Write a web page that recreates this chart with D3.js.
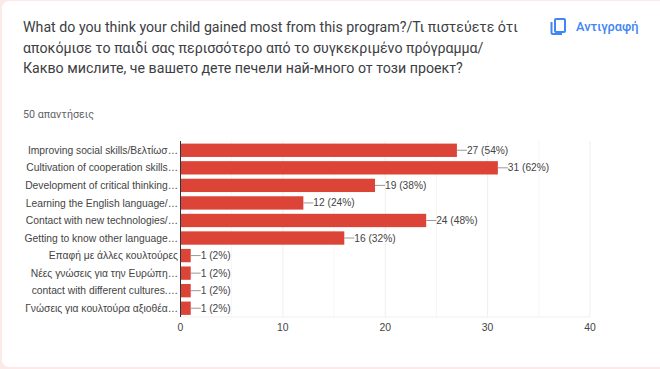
<!DOCTYPE html>
<html>
<head>
<meta charset="utf-8">
<script src="https://cdn.jsdelivr.net/npm/d3@7/dist/d3.min.js"></script>
<style>
    html, body {margin: 0; padding: 0; background: #fff; overflow: hidden;}
    svg {display: block;}
</style>
</head>
<body>
<svg id="chart"></svg>
<script>
const categories = [
    "Improving social skills/Βελτίωσ…",
    "Cultivation of cooperation skills…",
    "Development of critical thinking…",
    "Learning the English language/…",
    "Contact with new technologies/…",
    "Getting to know other language…",
    "Επαφή με άλλες κουλτούρες",
    "Νέες γνώσεις για την Ευρώπη…",
    "contact with different cultures.…",
    "Γνώσεις για κουλτούρα αξιοθέα…"
];
const counts = [27, 31, 19, 12, 24, 16, 1, 1, 1, 1];
const percents = [54, 62, 38, 24, 48, 32, 2, 2, 2, 2];
const xTicks = [0, 10, 20, 30, 40];
const xMinorTicks = [5, 15, 25, 35];
const titleLines = [
    "What do you think your child gained most from this program?/Τι πιστεύετε ότι",
    "αποκόμισε το παιδί σας περισσότερο από το συγκεκριμένο πρόγραμμα/",
    "Какво мислите, че вашето дете печели най-много от този проект?"
];
const responsesLabel = "50 απαντήσεις";
const copyLabel = "Αντιγραφή";

const width = 660, height = 369;
const uiFont = "Roboto, sans-serif";
const chartFont = "'Liberation Sans', Arial, sans-serif";

const svg = d3.select("svg#chart").attr("width", width).attr("height", height);

// Card on the pale pink page
svg.append("rect").attr("width", width).attr("height", height).attr("fill", "#fbeae8");
svg.append("rect")
    .attr("x", 2).attr("y", 1)
    .attr("width", width + 20).attr("height", 366)
    .attr("rx", 7)
    .attr("fill", "#fff");

// Question
svg.append("g").selectAll("text")
    .data(titleLines)
    .enter()
    .append("text")
    .attr("x", 23)
    .attr("y", (d, i) => 32 + i * 20.7)
    .attr("font-family", uiFont)
    .attr("font-size", 14.2)
    .attr("fill", "#3c4043")
    .text(d => d);

svg.append("text")
    .attr("x", 23).attr("y", 118)
    .attr("font-family", uiFont)
    .attr("font-size", 10.7)
    .attr("fill", "#5f6368")
    .text(responsesLabel);

// Copy button
const copy = svg.append("g").attr("fill", "none").attr("stroke", "#4285f4").attr("stroke-width", 2);
copy.append("rect").attr("x", 555).attr("y", 19).attr("width", 10).attr("height", 13).attr("rx", 1);
copy.append("path").attr("d", "M551.5 22v10.5a1.5 1.5 0 0 0 1.5 1.5h9");
svg.append("text")
    .attr("x", 576).attr("y", 31)
    .attr("font-family", uiFont)
    .attr("font-size", 12.8)
    .attr("font-weight", 500)
    .attr("fill", "#4285f4")
    .text(copyLabel);

// Scales
const x = d3.scaleLinear().domain([0, 40]).range([180.5, 590]);
const y = d3.scaleBand().domain(categories).range([141.5, 317]).paddingInner(0.24).paddingOuter(0.12);
const row = i => y(categories[i]) + y.bandwidth() / 2;

// Grid
const grid = svg.append("g");
grid.selectAll(".minor")
    .data(xMinorTicks)
    .enter()
    .append("line")
    .attr("class", "minor")
    .attr("x1", d => x(d)).attr("x2", d => x(d))
    .attr("y1", 141).attr("y2", 317)
    .attr("stroke", "#f6f6f6");
grid.selectAll(".major")
    .data(xTicks.slice(1))
    .enter()
    .append("line")
    .attr("class", "major")
    .attr("x1", d => x(d)).attr("x2", d => x(d))
    .attr("y1", 141).attr("y2", 317)
    .attr("stroke", "#efefef");
grid.append("line")
    .attr("x1", x(0)).attr("x2", x(40))
    .attr("y1", 317).attr("y2", 317)
    .attr("stroke", "#efefef");

// Bars
svg.append("g").selectAll("rect")
    .data(counts)
    .enter()
    .append("rect")
    .attr("x", x(0))
    .attr("y", (d, i) => y(categories[i]))
    .attr("width", d => x(d) - x(0))
    .attr("height", y.bandwidth())
    .attr("fill", "#db4437");

// Zero line
svg.append("line")
    .attr("x1", x(0)).attr("x2", x(0))
    .attr("y1", 141).attr("y2", 317)
    .attr("stroke", "#333");

// Leader lines and value labels
svg.append("g").selectAll("line")
    .data(counts)
    .enter()
    .append("line")
    .attr("x1", d => x(d)).attr("x2", d => x(d) + 10)
    .attr("y1", (d, i) => row(i)).attr("y2", (d, i) => row(i))
    .attr("stroke", "#999");
svg.append("g").selectAll("text")
    .data(counts)
    .enter()
    .append("text")
    .attr("x", d => x(d) + 10)
    .attr("y", (d, i) => row(i))
    .attr("dy", "0.35em")
    .attr("font-family", chartFont)
    .attr("font-size", 10.2)
    .attr("fill", "#444")
    .text((d, i) => d + " (" + percents[i] + "%)");

// Category labels
svg.append("g").selectAll("text")
    .data(categories)
    .enter()
    .append("text")
    .attr("x", 178)
    .attr("y", d => y(d) + y.bandwidth() / 2)
    .attr("dy", "0.35em")
    .attr("text-anchor", "end")
    .attr("font-family", chartFont)
    .attr("font-size", 10.3)
    .attr("fill", "#444")
    .text(d => d);

// X axis labels
svg.append("g").selectAll("text")
    .data(xTicks)
    .enter()
    .append("text")
    .attr("x", d => x(d))
    .attr("y", 331)
    .attr("text-anchor", "middle")
    .attr("font-family", chartFont)
    .attr("font-size", 10.4)
    .attr("fill", "#444")
    .text(d => d);
</script>
</body>
</html>
